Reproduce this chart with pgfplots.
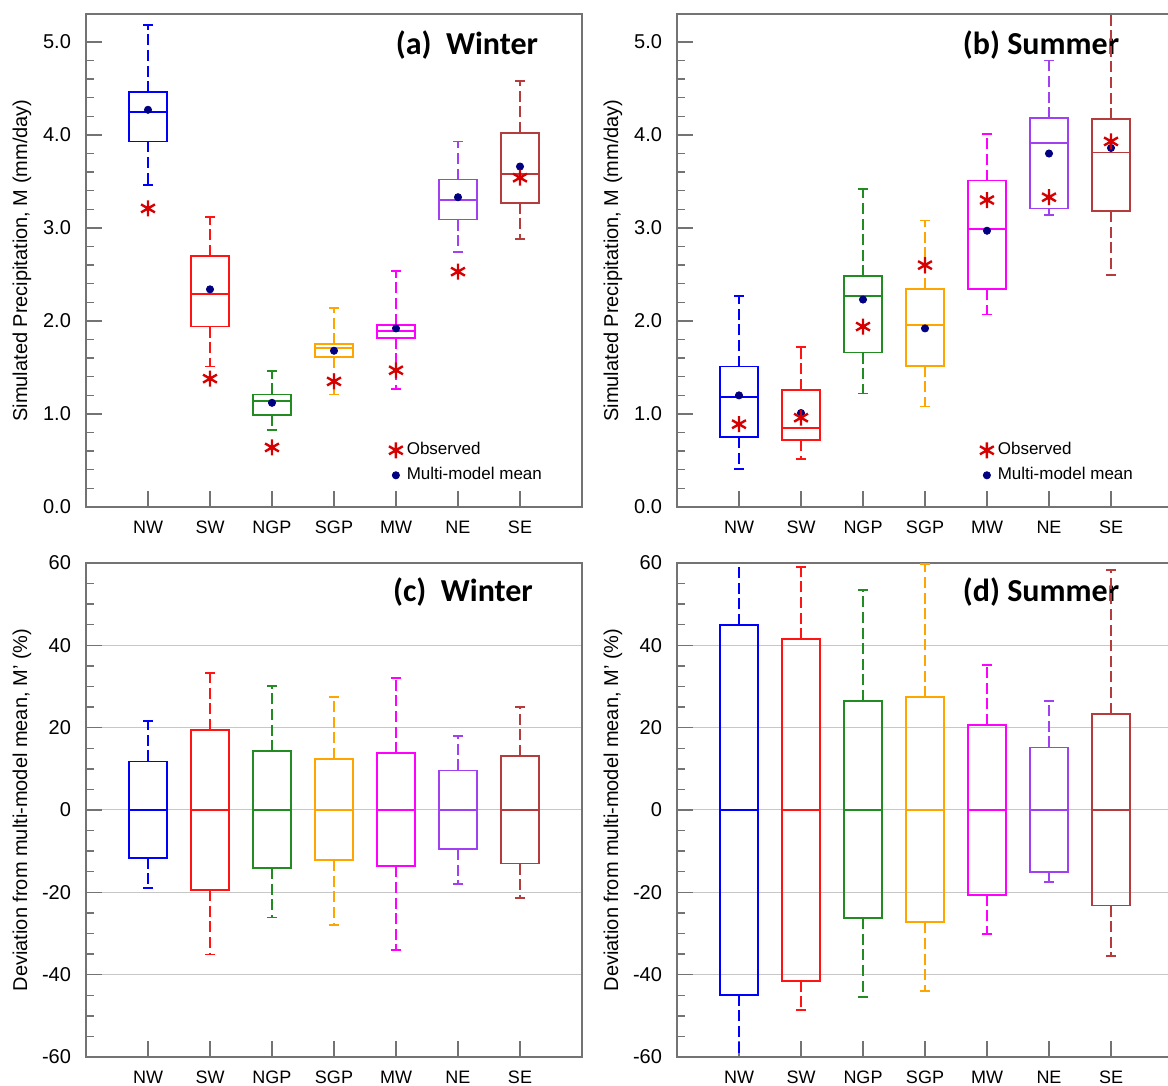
\documentclass[border=0pt]{standalone}
\usepackage{fontspec}
\setmainfont{Liberation Sans}
\newfontfamily\titlefont{Carlito}
\usepackage{pgfplots}
\pgfplotsset{compat=1.18}
\usepgfplotslibrary{statistics}

\definecolor{cNW}{RGB}{0,0,255}
\definecolor{cSW}{RGB}{255,20,20}
\definecolor{cNGP}{RGB}{34,139,34}
\definecolor{cSGP}{RGB}{255,165,0}
\definecolor{cMW}{RGB}{255,0,255}
\definecolor{cNE}{RGB}{160,64,240}
\definecolor{cSE}{RGB}{180,60,60}
\definecolor{obs}{RGB}{215,0,0}
\definecolor{mmm}{RGB}{0,0,128}
\definecolor{axgray}{RGB}{115,115,115}

\tikzset{ttl/.style={font=\titlefont\bfseries\fontsize{16}{19}\selectfont}}

\pgfplotsset{
  base/.style={
    scale only axis, width=248pt,
    xmin=0, xmax=8, xtick={1,...,7},
    xticklabels={NW,SW,NGP,SGP,MW,NE,SE},
    tick pos=left, tick align=inside,
    major tick length=8pt, minor tick length=4pt,
    every tick/.style={axgray, line width=0.7pt},
    axis line style={axgray, line width=0.8pt},
    x tick label style={font=\fontsize{9}{10}\selectfont, yshift=-3.5pt},
    y tick label style={font=\fontsize{10}{12}\selectfont, xshift=-4pt},
    ylabel style={font=\fontsize{10}{12}\selectfont, at={(axis description cs:-0.129,0.5)}, anchor=center},
    /pgf/number format/assume math mode=true,
    boxplot/draw direction=y,
    boxplot/box extend=0.62, boxplot/whisker extend=0.16,
    boxplot/every whisker/.style={dash pattern=on 5.5pt off 2.3pt},
  },
  precip/.style={
    base, height=246.5pt,
    ymin=0, ymax=5.3, ytick={0,1,...,5}, minor y tick num=4,
    yticklabel style={/pgf/number format/.cd, fixed, fixed zerofill, precision=1},
    ylabel={Simulated Precipitation, M (mm/day)},
    legend style={draw=none, fill=none, inner sep=0pt,
      font=\fontsize{8.5}{10}\selectfont,
      nodes={inner sep=0pt, text height=6.2pt, text depth=1.8pt},
      row sep=4.5pt, cells={anchor=west},
      at={(axis cs:4.88,0.70)}, anchor=north west,
      /tikz/every odd column/.append style={column sep=2pt}},
    legend image code/.code={\draw[##1] plot coordinates {(0pt,0pt)};},
  },
  dev/.style={
    base, height=247pt,
    ymin=-60, ymax=60, ytick={-60,-40,...,60}, minor y tick num=3,
    ymajorgrids, grid style={black!22, line width=0.5pt},
    ylabel={Deviation from multi-model mean, M’ (\%)},
  },
}

\newcommand\bx[7]{\addplot[#1, line width=0.9pt, forget plot,
  boxplot prepared={draw position=#2, lower whisker=#3, lower quartile=#4,
  median=#5, upper quartile=#6, upper whisker=#7}] coordinates {};}
\newcommand\legendimgs{%
  \addlegendimage{only marks, mark=asterisk, obs, mark size=4pt, line width=1.2pt}
  \addlegendentry{Observed}
  \addlegendimage{only marks, mark=*, mmm, mark size=1.8pt}
  \addlegendentry{Multi-model mean}}

\begin{document}
\begin{tikzpicture}
\useasboundingbox (0,0) rectangle (584pt,-543pt);

% (a) Winter
\begin{axis}[precip, at={(43pt,-7pt)}, anchor=north west]
\node[ttl] at (rel axis cs:0.768,0.937) {(a)\ \ Winter};
\legendimgs
\bx{cNW}{1}{3.46}{3.93}{4.25}{4.46}{5.18}
\bx{cSW}{2}{1.51}{1.94}{2.29}{2.70}{3.12}
\bx{cNGP}{3}{0.83}{0.99}{1.14}{1.21}{1.46}
\bx{cSGP}{4}{1.21}{1.61}{1.71}{1.75}{2.14}
\bx{cMW}{5}{1.27}{1.82}{1.89}{1.96}{2.54}
\bx{cNE}{6}{2.74}{3.09}{3.30}{3.52}{3.93}
\bx{cSE}{7}{2.88}{3.27}{3.58}{4.02}{4.58}
\addplot[only marks, mark=*, mmm, mark size=1.8pt, forget plot] coordinates
  {(1,4.27) (2,2.34) (3,1.12) (4,1.68) (5,1.92) (6,3.33) (7,3.66)};
\addplot[only marks, mark=asterisk, obs, mark size=4pt, line width=1.2pt, forget plot] coordinates
  {(1,3.21) (2,1.38) (3,0.64) (4,1.35) (5,1.47) (6,2.53) (7,3.54)};
\end{axis}

% (b) Summer
\begin{axis}[precip, at={(338.5pt,-7pt)}, anchor=north west]
\node[ttl] at (rel axis cs:0.734,0.937) {(b) Summer};
\legendimgs
\bx{cNW}{1}{0.41}{0.75}{1.18}{1.51}{2.27}
\bx{cSW}{2}{0.52}{0.72}{0.85}{1.26}{1.72}
\bx{cNGP}{3}{1.22}{1.66}{2.27}{2.48}{3.42}
\bx{cSGP}{4}{1.08}{1.52}{1.96}{2.34}{3.08}
\bx{cMW}{5}{2.07}{2.34}{2.99}{3.51}{4.01}
\bx{cNE}{6}{3.14}{3.21}{3.91}{4.18}{4.80}
\bx{cSE}{7}{2.49}{3.18}{3.81}{4.17}{5.40}
\addplot[only marks, mark=*, mmm, mark size=1.8pt, forget plot] coordinates
  {(1,1.20) (2,1.01) (3,2.23) (4,1.92) (5,2.97) (6,3.80) (7,3.86)};
\addplot[only marks, mark=asterisk, obs, mark size=4pt, line width=1.2pt, forget plot] coordinates
  {(1,0.89) (2,0.96) (3,1.94) (4,2.60) (5,3.30) (6,3.33) (7,3.93)};
\end{axis}

% (c) Winter
\begin{axis}[dev, at={(43pt,-281.5pt)}, anchor=north west]
\node[ttl] at (rel axis cs:0.76,0.941) {(c)\ \ Winter};
\bx{cNW}{1}{-18.9}{-11.6}{0}{11.8}{21.7}
\bx{cSW}{2}{-35.1}{-19.5}{0}{19.5}{33.2}
\bx{cNGP}{3}{-26.1}{-14.1}{0}{14.3}{30.2}
\bx{cSGP}{4}{-27.9}{-12.2}{0}{12.4}{27.5}
\bx{cMW}{5}{-34.0}{-13.7}{0}{13.8}{32.0}
\bx{cNE}{6}{-17.9}{-9.5}{0}{9.6}{17.9}
\bx{cSE}{7}{-21.3}{-13.0}{0}{13.1}{25.1}
\end{axis}

% (d) Summer
\begin{axis}[dev, at={(338.5pt,-281.5pt)}, anchor=north west]
\node[ttl] at (rel axis cs:0.734,0.941) {(d) Summer};
\bx{cNW}{1}{-70}{-44.9}{0}{45.0}{70}
\bx{cSW}{2}{-48.6}{-41.5}{0}{41.5}{59.0}
\bx{cNGP}{3}{-45.4}{-26.3}{0}{26.5}{53.5}
\bx{cSGP}{4}{-43.9}{-27.3}{0}{27.4}{59.8}
\bx{cMW}{5}{-30.2}{-20.6}{0}{20.7}{35.3}
\bx{cNE}{6}{-17.4}{-15.1}{0}{15.2}{26.5}
\bx{cSE}{7}{-35.4}{-23.2}{0}{23.4}{58.3}
\end{axis}
\end{tikzpicture}
\end{document}
